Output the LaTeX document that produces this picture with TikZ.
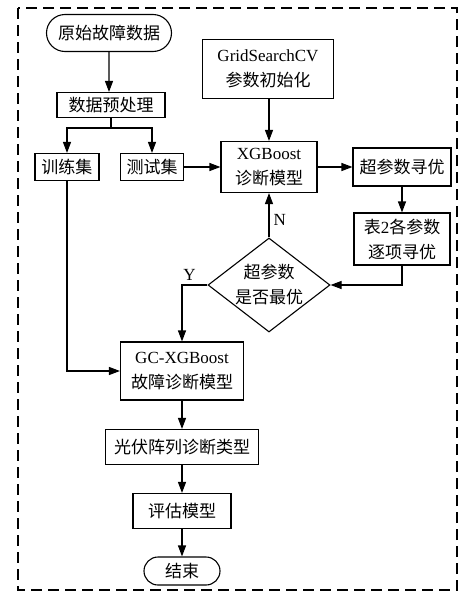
\documentclass[tikz,border=0pt]{standalone}
\usepackage{fontspec}
\setmainfont{Liberation Serif}
\newfontfamily\cjk{Noto Sans CJK SC}
\usetikzlibrary{shapes.geometric,shapes.misc,arrows.meta}
\begin{document}
\begin{tikzpicture}[x=1pt,y=-1pt,
  every node/.style={font=\fontsize{17}{25}\selectfont, inner sep=0pt, align=center},
  box/.style={draw, line width=1.1pt, fill=white},
  pill/.style={draw, line width=1.1pt, rounded rectangle},
  arr/.style={-{Triangle[length=11pt,width=8pt]}, line width=1.1pt},
  ln/.style={line width=1.1pt}]
\useasboundingbox (0,0) rectangle (459,592);
\draw[line width=2pt, dash pattern=on 11pt off 6pt] (18,8) rectangle (457,590);

\node[pill, minimum width=125pt, minimum height=37pt] (start) at (109,33) {\cjk 原始故障数据};
\node[box, minimum width=108pt, minimum height=25pt] (pre) at (111,105) {\cjk 数据预处理};
\node[box, minimum width=64pt, minimum height=27pt] (train) at (67,167) {\cjk 训练集};
\node[box, minimum width=63pt, minimum height=27pt] (test) at (152,167) {\cjk 测试集};
\node[box, minimum width=131pt, minimum height=59pt] (grid) at (268,69) {GridSearchCV\\{\cjk 参数初始化}};
\node[box, minimum width=96pt, minimum height=51pt] (xgb) at (269,167) {XGBoost\\{\cjk 诊断模型}};
\node[box, minimum width=98pt, minimum height=38pt] (hyp) at (402,167) {\cjk 超参数寻优};
\node[box, minimum width=96pt, minimum height=52pt] (tab) at (402,239) {{\cjk 表}2{\cjk 各参数}\\{\cjk 逐项寻优}};
\node[draw, line width=1.1pt, diamond, minimum width=122pt, minimum height=94pt, inner sep=0pt] (dec) at (269,285) {};
\node (dectext) at (269,285) {\cjk 超参数\\\cjk 是否最优};
\node[box, minimum width=123pt, minimum height=58pt] (gc) at (182,371) {GC-XGBoost\\{\cjk 故障诊断模型}};
\node[box, minimum width=153pt, minimum height=35pt] (pv) at (182,447) {\cjk 光伏阵列诊断类型};
\node[box, minimum width=98pt, minimum height=35pt] (eva) at (182,511) {\cjk 评估模型};
\node[pill, minimum width=76pt, minimum height=28pt] (end) at (182,571) {\cjk 结束};

\draw[arr] (start) -- (start|-pre.north);
\coordinate (br) at (pre.south|-0,128);
\draw[ln] (pre.south) -- (br);
\draw[arr] (br) -| (train.north);
\draw[arr] (br) -| (test.north);
\draw[arr] (test) -- (xgb);
\draw[arr] (grid.south-|xgb) -- (xgb.north);
\draw[arr] (xgb) -- (hyp);
\draw[arr] (hyp) -- (tab);
\draw[arr] (tab.south) |- (dec.east);
\draw[arr] (dec.north) -- node[right=4pt, pos=0.4] {N} (xgb.south);
\draw[arr] (dec.west) -| node[above=4pt, pos=0.35] {Y} (gc.north);
\draw[arr] (train.south) |- (gc.west);
\draw[arr] (gc) -- (pv);
\draw[arr] (pv) -- (eva);
\draw[arr] (eva) -- (end);
\end{tikzpicture}
\end{document}
